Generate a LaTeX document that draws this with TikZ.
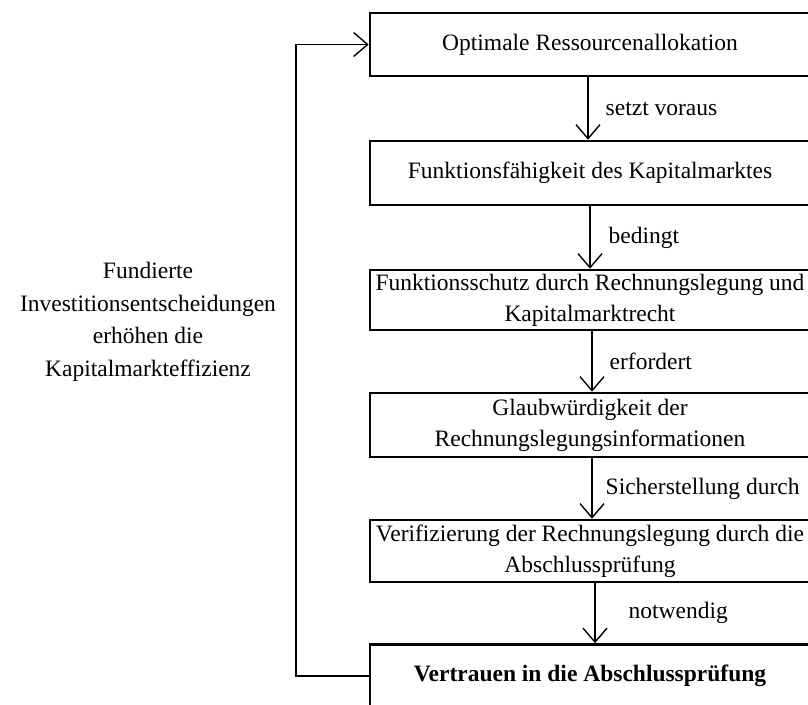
\documentclass[tikz,border=0pt]{standalone}
\usepackage{fontspec}
\setmainfont{Liberation Serif}
\usetikzlibrary{arrows.meta}

\tikzset{
  stepbox/.style={draw, line width=2.6pt, rectangle, minimum width=440pt,
    inner sep=0pt, align=center, font=\fontsize{23.5}{31}\selectfont},
  flow/.style={line width=1.4pt, -{Straight Barb[length=14pt, width=24pt, line width=1.4pt]}},
  edgelabel/.style={anchor=west, inner sep=0pt, font=\fontsize{23.5}{31}\selectfont},
  sidetext/.style={align=center, inner sep=0pt, font=\fontsize{23.5}{32.5}\selectfont}
}

\begin{document}
\begin{tikzpicture}[x=1pt, y=-1pt]
  \useasboundingbox (0,0) rectangle (808,704);
  \clip (0,0) rectangle (808,704);

  % chain of boxes, running past the right edge
  \node[stepbox, minimum height=63pt] (b1) at (590,44.5) {Optimale Ressourcenallokation};
  \node[stepbox, minimum height=64pt] (b2) at (590,173) {Funktionsfähigkeit des Kapitalmarktes};
  \node[stepbox, minimum height=60pt] (b3) at (590,300) {Funktionsschutz durch Rechnungslegung und\\Kapitalmarktrecht};
  \node[stepbox, minimum height=64pt] (b4) at (590,425) {Glaubwürdigkeit der\\Rechnungslegungsinformationen};
  \node[stepbox, minimum height=62pt] (b5) at (590,551) {Verifizierung der Rechnungslegung durch die\\Abschlussprüfung};
  \node[stepbox, minimum height=63pt] (b6) at (590,676) {\textbf{Vertrauen in die Abschlussprüfung}};

  % downward links with their labels
  \draw[flow] ([xshift=-2pt]b1.south) -- node[edgelabel, xshift=17pt] (l1) {setzt voraus} ([xshift=-2pt]b2.north);
  \draw[flow] (b2.south) -- node[edgelabel, xshift=18pt] (l2) {bedingt} (b3.north);
  \draw[flow] ([xshift=2pt]b3.south) -- node[edgelabel, xshift=17pt] (l3) {erfordert} ([xshift=2pt]b4.north);
  \draw[flow] ([xshift=2pt]b4.south) -- node[edgelabel, xshift=13pt] (l4) {Sicherstellung durch} ([xshift=2pt]b5.north);
  \draw[flow] ([xshift=5pt]b5.south) -- node[edgelabel, xshift=33pt] (l5) {notwendig} ([xshift=5pt]b6.north);

  % feedback loop back to the top
  \coordinate (loopx) at (296,0);
  \draw[flow] (b6.west) -| (loopx |- b6.west) -- (loopx |- b1.west) -- (b1.west);

  \node[sidetext] (side) at (148,322) {Fundierte\\Investitionsentscheidungen\\erhöhen die\\Kapitalmarkteffizienz};
\end{tikzpicture}
\end{document}
